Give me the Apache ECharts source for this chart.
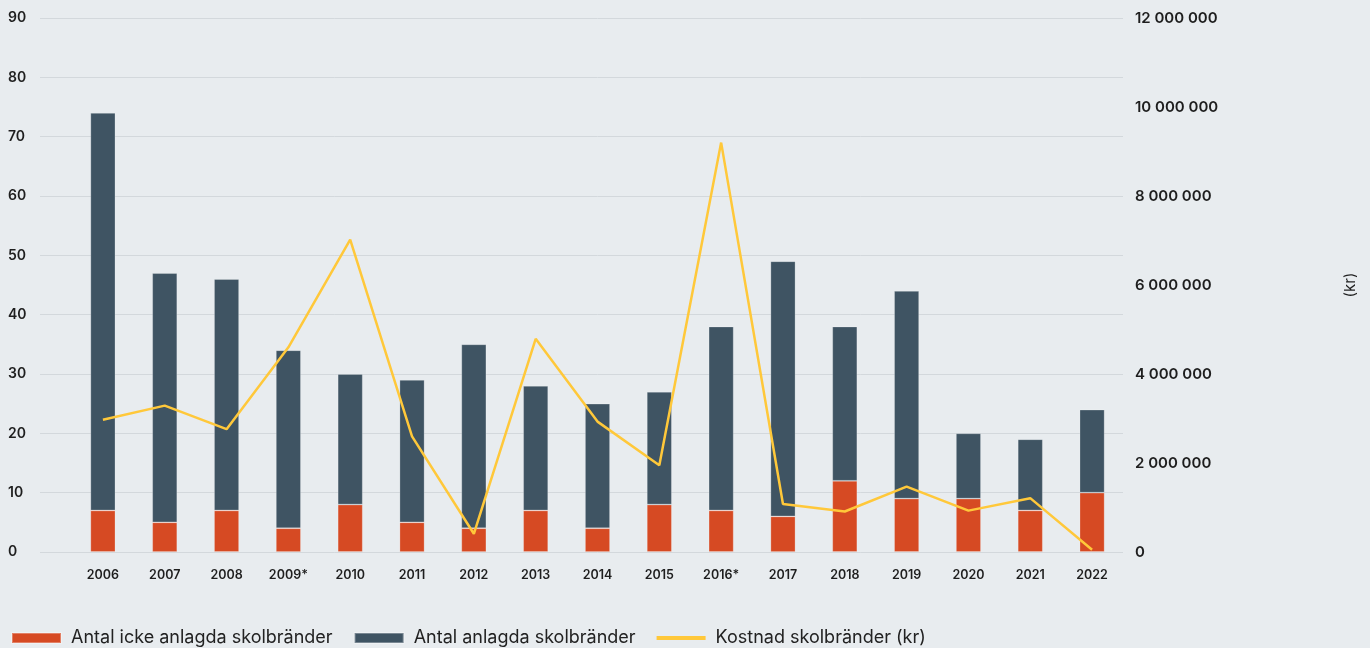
<!DOCTYPE html>
<html>
<head>
<meta charset="utf-8">
<script src="https://cdn.jsdelivr.net/npm/echarts@6/dist/echarts.min.js"></script>
<style>
html,body{margin:0;padding:0;background:#E8ECEF;}
#c{width:1370px;height:648px;}
</style>
</head>
<body>
<div id="c"></div>
<script>
const years = ['2006','2007','2008','2009*','2010','2011','2012','2013','2014','2015','2016*','2017','2018','2019','2020','2021','2022'];
const ickeAnlagda = [7,5,7,4,8,5,4,7,4,8,7,6,12,9,9,7,10];
const anlagda = [67,42,39,30,22,24,31,21,21,19,31,43,26,35,11,12,14];
const kostnad = [2970000,3290000,2760000,4600000,7020000,2600000,410000,4790000,2930000,1950000,9200000,1080000,910000,1470000,930000,1210000,50000];
const leftTicks = {min:0, max:90, interval:10};
const rightTicks = {min:0, max:12000000, interval:2000000};

const FONT = 'Inter, "Open Sans", sans-serif';
const fmt = v => String(v).replace(/\B(?=(\d{3})+(?!\d))/g, ' ');

const chart = echarts.init(document.getElementById('c'));
chart.setOption({
  backgroundColor: '#E8ECEF',
  animation: false,
  textStyle: {fontFamily: FONT},
  grid: [
    {left: 72, right: 247, top: 18, bottom: 96},
    {left: 40, width: 32, top: 18, bottom: 96}
  ],
  legend: {
    left: 6, top: 624,
    itemWidth: 49, itemHeight: 10, itemGap: 21,
    textStyle: {fontFamily: FONT, fontSize: 18, color: '#222', padding: [0,0,0,5]},
    data: [
      {name: 'Antal icke anlagda skolbränder', icon: 'rect'},
      {name: 'Antal anlagda skolbränder', icon: 'rect'},
      {name: 'Kostnad skolbränder (kr)', icon: 'path://M0,0 L49,0 L49,4 L0,4 Z'}
    ]
  },
  xAxis: [
    {
      type: 'category', data: years, gridIndex: 0,
      axisLine: {show: false}, axisTick: {show: false},
      axisLabel: {margin: 17, fontSize: 12.5, fontWeight: 600, color: '#1e1e1e', fontFamily: FONT}
    },
    {type: 'category', data: [''], gridIndex: 1, show: false}
  ],
  yAxis: [
    {
      type: 'value', gridIndex: 0, position: 'left',
      min: leftTicks.min, max: leftTicks.max, interval: leftTicks.interval,
      axisLine: {show: false}, axisTick: {show: false},
      axisLabel: {align: 'left', margin: 64, fontSize: 14, fontWeight: 600, color: '#1e1e1e', fontFamily: FONT},
      splitLine: {lineStyle: {color: '#D3D8DC', width: 1}}
    },
    {
      type: 'value', gridIndex: 0, position: 'right',
      min: rightTicks.min, max: rightTicks.max, interval: rightTicks.interval,
      axisLine: {show: false}, axisTick: {show: false},
      axisLabel: {margin: 12, fontSize: 15, fontWeight: 600, color: '#1e1e1e', fontFamily: FONT, formatter: fmt},
      splitLine: {show: false},
      name: '(kr)', nameLocation: 'middle', nameRotate: 90, nameGap: 220,
      nameTextStyle: {fontSize: 15, color: '#1e1e1e', fontFamily: FONT}
    },
    {
      type: 'value', gridIndex: 1,
      min: leftTicks.min, max: leftTicks.max, interval: leftTicks.interval,
      axisLine: {show: false}, axisTick: {show: false}, axisLabel: {show: false},
      splitLine: {lineStyle: {color: '#D3D8DC', width: 1}}
    }
  ],
  series: [
    {
      name: 'Antal icke anlagda skolbränder', type: 'bar', stack: 'tot',
      xAxisIndex: 0, yAxisIndex: 0, barWidth: 25,
      itemStyle: {color: '#D64A23', borderColor: 'rgba(255,255,255,0.3)', borderWidth: 0.8},
      data: ickeAnlagda
    },
    {
      name: 'Antal anlagda skolbränder', type: 'bar', stack: 'tot',
      xAxisIndex: 0, yAxisIndex: 0, barWidth: 25,
      itemStyle: {color: '#3F5463', borderColor: 'rgba(255,255,255,0.3)', borderWidth: 0.8},
      data: anlagda
    },
    {
      name: 'Kostnad skolbränder (kr)', type: 'line',
      xAxisIndex: 0, yAxisIndex: 1,
      showSymbol: false, symbol: 'none',
      lineStyle: {color: '#FFC83A', width: 2.5},
      itemStyle: {color: '#FFC83A'},
      data: kostnad, z: 5
    }
  ]
});
</script>
</body>
</html>
